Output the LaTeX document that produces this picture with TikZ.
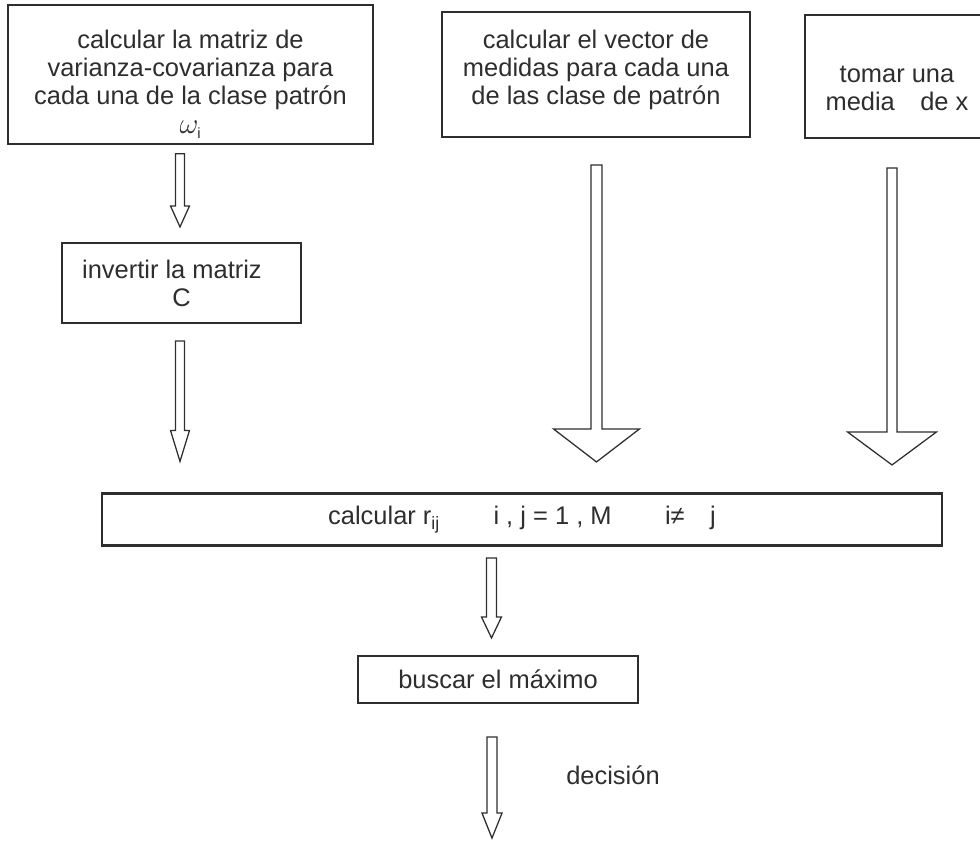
\documentclass[tikz,border=0pt]{standalone}
\usepackage{fontspec}
\setmainfont{Liberation Sans}
\usetikzlibrary{calc}
\definecolor{scanink}{HTML}{2E2E2E}
\tikzset{
  box/.style={draw=scanink, line width=1.5pt, text=scanink, inner sep=0pt,
    align=center, font=\fontsize{18.1}{19.9}\selectfont},
  tag/.style={text=scanink, inner sep=0pt, font=\fontsize{18.1}{19.9}\selectfont},
  arrowline/.style={draw=scanink, line width=0.9pt, line join=miter}
}
\newcommand\padtop[1]{\rule{0pt}{#1}}
\newcommand\padbot[1]{\rule[-#1]{0pt}{0pt}}
\newcommand\hollowarrow[5]{%
  \draw[arrowline]
    ($(#1)+(-#3,0)$)
    --
    ($(#2)+(-#3,-#5)$)
    --
    ($(#2)+(-#4,-#5)$)
    --
    (#2)
    --
    ($(#2)+(#4,-#5)$)
    --
    ($(#2)+(#3,-#5)$)
    --
    ($(#1)+(#3,0)$)
    --
    cycle;}
\begin{document}
\begin{tikzpicture}[x=0.025cm, y=-0.025cm]
  \useasboundingbox (0,0) rectangle (980,857);
  \clip (0,0) rectangle (980,857);
  \node[box, minimum width=9.125cm, minimum height=3.225cm] (matriz) at (190.5,74.5)
    {\padtop{30.7pt}calcular la matriz de\\varianza-covarianza para\\cada una de la clase patrón\\[1pt]{\fontsize{21}{19.9}\selectfont$\omega_{\scriptscriptstyle\mathrm{i}}$}\padbot{7pt}};
  \node[box, minimum width=7.7cm, minimum height=3.125cm] (vector) at (596,74.5)
    {\padtop{14pt}calcular el vector de\\medidas para cada una\\de las clase de patrón\padbot{11.8pt}};
  \node[box, minimum width=4.6cm, minimum height=3.075cm] (media) at (897,76.5)
    {\padtop{29pt}tomar una\\media\quad de x\padbot{1pt}};
  \node[box, minimum width=5.975cm, minimum height=2cm] (invertir) at (181.5,283)
    {invertir la matriz\hspace*{0.75em}\\C};
  \node[box, minimum width=21cm, minimum height=1.3cm] (calculo) at (522,519.5)
    {calcular r\textsubscript{ij}\hspace{2.1em}i , j = 1 , M\hspace{2.1em}i≠\hspace{1em}j};
  \node[box, minimum width=7cm, minimum height=1.175cm] (maximo) at (498,679.5)
    {buscar el máximo};
  \node[tag] (decision) at (613,775) {decisión};
  \coordinate (a1from) at ($(matriz.south -| invertir.north)+(-1.5,9)$);
  \coordinate (a1to) at ($(invertir.north)+(-1.5,-15)$);
  \coordinate (a2from) at ($(invertir.south)+(-1.5,17)$);
  \coordinate (a2to) at ($(a2from |- calculo.north)+(0,-31)$);
  \coordinate (a3to) at ($(maximo.north)+(-6.5,-17)$);
  \coordinate (a3from) at ($(a3to |- calculo.south)+(0,11.5)$);
  \coordinate (a4from) at ($(maximo.south)+(-6,33)$);
  \coordinate (fin) at ($(a4from)+(0,101)$);
  \coordinate (bAfrom) at ($(vector.south)+(0.5,27)$);
  \coordinate (bAto) at ($(bAfrom |- calculo.north)+(0,-30.5)$);
  \coordinate (bBfrom) at ($(media.south)+(-5,29)$);
  \coordinate (bBto) at ($(bBfrom |- calculo.north)+(0,-27.5)$);
  \hollowarrow{a1from}{a1to}{4.5}{9.5}{21}
  \hollowarrow{a2from}{a2to}{4.5}{9.5}{31}
  \hollowarrow{a3from}{a3to}{5}{10}{21}
  \hollowarrow{a4from}{fin}{5}{10}{25}
  \hollowarrow{bAfrom}{bAto}{5.5}{43}{33}
  \hollowarrow{bBfrom}{bBto}{5}{44.5}{33}
\end{tikzpicture}
\end{document}
